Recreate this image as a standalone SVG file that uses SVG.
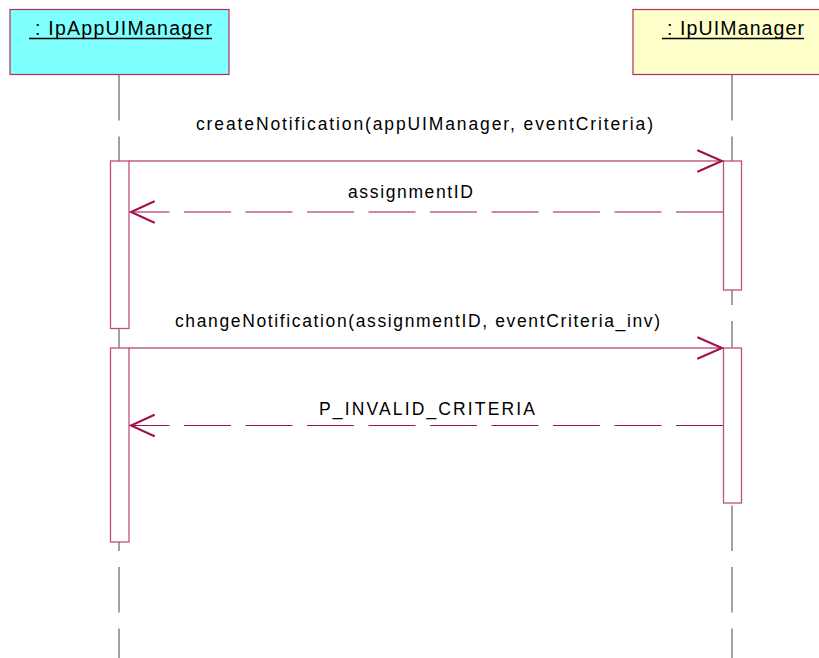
<svg xmlns="http://www.w3.org/2000/svg" width="819" height="658" viewBox="0 0 819 658">
<style>
.hdr{stroke:#B0305A;stroke-width:1.2}
.lbl{font-family:"Liberation Sans",Arial,sans-serif;fill:#000}
.life{stroke:#707070;stroke-width:1.3;stroke-dasharray:45.5 16;fill:none}
.act{fill:#fff;stroke:#C05078;stroke-width:1.3}
.msg{stroke:#A0104A;stroke-width:1.2;fill:none}
.ret{stroke:#A0104A;stroke-width:1.2;fill:none;stroke-dasharray:47 14.5}
.head{stroke:#A0104A;stroke-width:2;fill:none;stroke-linecap:round}
</style>
<rect width="819" height="658" fill="#fff"/>
<g id="lifelines">
<line class="life" x1="119" y1="75" x2="119" y2="658"/>
<line class="life" x1="732" y1="75" x2="732" y2="658"/>
</g>
<g id="obj-app">
<rect class="hdr" x="10" y="9.5" width="219" height="65" fill="#80FFFF"/>
<text class="lbl" x="35" y="35" font-size="19.5" textLength="177" lengthAdjust="spacing">: IpAppUIManager</text>
<line x1="29" y1="38.5" x2="212" y2="38.5" stroke="#000" stroke-width="1.3"/>
</g>
<g id="obj-ui">
<rect class="hdr" x="633" y="9.5" width="190" height="65" fill="#FFFFCC"/>
<text class="lbl" x="667" y="35" font-size="19.5" textLength="137" lengthAdjust="spacing">: IpUIManager</text>
<line x1="662" y1="38.5" x2="804" y2="38.5" stroke="#000" stroke-width="1.3"/>
</g>
<g id="activations">
<rect class="act" x="110.5" y="161" width="18.5" height="167.5"/>
<rect class="act" x="110.5" y="348" width="18.5" height="194"/>
<rect class="act" x="723.5" y="161" width="18" height="129"/>
<rect class="act" x="723.5" y="348" width="18" height="155"/>
</g>
<g id="connectors">
<line class="msg" x1="129" y1="161" x2="722" y2="161"/>
<polyline class="head" points="698,150.5 722,161 698,171.5"/>
<line class="ret" x1="723" y1="212" x2="131" y2="212"/>
<polyline class="head" points="154,201.5 131,212 154,222.5"/>
<line class="msg" x1="129" y1="348" x2="722" y2="348"/>
<polyline class="head" points="698,337.5 722,348 698,358.5"/>
<line class="ret" x1="723" y1="425.5" x2="131" y2="425.5"/>
<polyline class="head" points="154,415 131,425.5 154,436"/>
</g>
<g id="labels">
<text class="lbl" x="196" y="130" font-size="17.5" textLength="457" lengthAdjust="spacing">createNotification(appUIManager, eventCriteria)</text>
<text class="lbl" x="348" y="198" font-size="17.5" textLength="125" lengthAdjust="spacing">assignmentID</text>
<text class="lbl" x="175" y="326.5" font-size="17.5" textLength="485" lengthAdjust="spacing">changeNotification(assignmentID, eventCriteria_inv)</text>
<text class="lbl" x="319" y="415" font-size="17.5" textLength="216" lengthAdjust="spacing">P_INVALID_CRITERIA</text>
</g>
</svg>
